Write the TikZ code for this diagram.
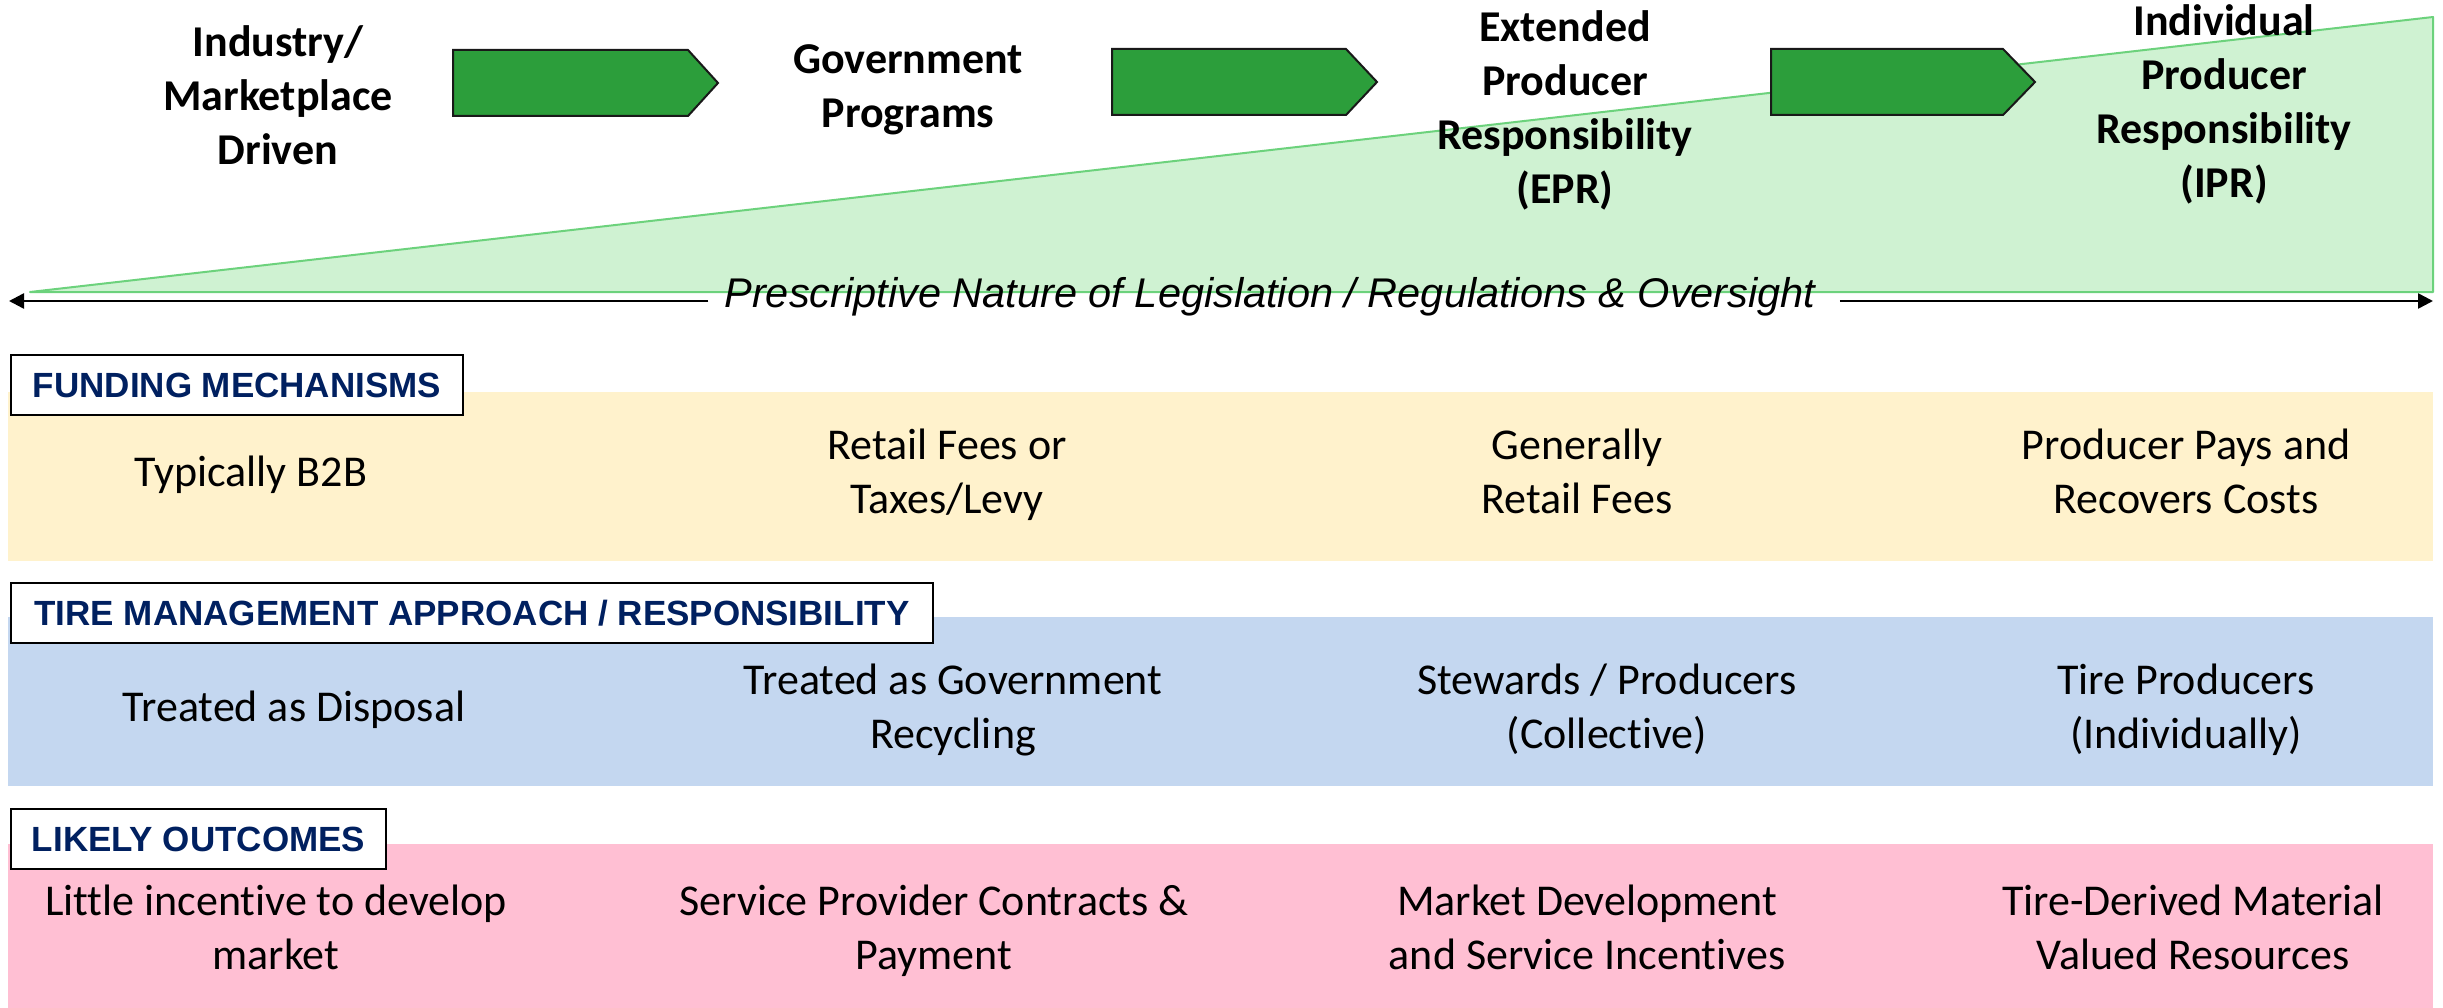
\documentclass[tikz,border=0pt]{standalone}
\usepackage{fontspec}
\setmainfont{Carlito}[Ligatures=NoCommon]
\newfontfamily\arialfont{Liberation Sans}
\usetikzlibrary{arrows.meta}
\definecolor{chevgreen}{RGB}{44,158,59}
\definecolor{trifill}{RGB}{207,242,210}
\definecolor{triline}{RGB}{108,210,124}
\definecolor{bandyellow}{RGB}{255,242,204}
\definecolor{bandblue}{RGB}{196,215,240}
\definecolor{bandpink}{RGB}{255,191,211}
\definecolor{navy}{RGB}{0,32,96}
\begin{document}
\begin{tikzpicture}[x=1pt,y=-1pt,
  titletext/.style={font=\bfseries\fontsize{44}{54}\selectfont, align=center, inner sep=0pt},
  celltext/.style={font=\fontsize{44}{54}\selectfont, align=center, inner sep=0pt},
  hdrbox/.style={draw=black, line width=2pt, fill=white, anchor=north west, inner sep=0pt,
    minimum height=60pt, text=navy, font=\arialfont\bfseries\fontsize{35}{42}\selectfont},
  chevron/.style={fill=chevgreen, draw=black!90, line width=2pt, line join=miter},
  scaleline/.style={line width=2.5pt, -{Triangle[length=15pt,width=15pt]}},
  scaletext/.style={font=\arialfont\itshape\fontsize{41.5}{49}\selectfont, inner sep=0pt, anchor=base}
]
\useasboundingbox (0,0) rectangle (2443,1008);
\fill[white] (0,0) rectangle (2443,1008);

% rising wedge
\filldraw[fill=trifill, draw=triline, line width=2pt, line join=round]
  (30,292) -- (2433,17) -- (2433,292) -- cycle;

% progression chevrons
\draw[chevron] (453,50) -- (688,50) -- (718,83) -- (688,116) -- (453,116) -- cycle;
\draw[chevron] (1112,49) -- (1346,49) -- (1377,82) -- (1346,115) -- (1112,115) -- cycle;
\draw[chevron] (1771,49) -- (2003,49) -- (2035,82) -- (2003,115) -- (1771,115) -- cycle;

% stage titles
\node[titletext] (t1) at (278,100) {\strut Industry/\\\strut Marketplace\\\strut Driven};
\node[titletext] (t2) at (908,90) {\strut Government\\\strut Programs};
\node[titletext] (t3) at (1565,112) {\strut Extended\\\strut Producer\\\strut Responsibility\\\strut (EPR)};
\node[titletext] (t4) at (2224,106) {\strut Individual\\\strut Producer\\\strut Responsibility\\\strut (IPR)};

% scale line
\node[scaletext] (scale) at (1270,307) {Prescriptive Nature of Legislation / Regulations \& Oversight};
\coordinate (lend) at (9,301);
\coordinate (rend) at (2433,301);
\draw[scaleline] ([xshift=-16pt]scale.west |- lend) -- (lend);
\draw[scaleline] ([xshift=24pt]scale.east |- rend) -- (rend);

% bands
\fill[bandyellow] (8,392) rectangle (2433,561);
\fill[bandblue] (8,617) rectangle (2433,786);
\fill[bandpink] (8,844) rectangle (2433,1008);

% headers
\node[hdrbox, minimum width=452pt] (h1) at (10,354) {FUNDING MECHANISMS};
\node[hdrbox, minimum width=922pt] (h2) at (10,582) {TIRE MANAGEMENT APPROACH / RESPONSIBILITY};
\node[hdrbox, minimum width=375pt] (h3) at (10,808) {LIKELY OUTCOMES};

% row 1
\node[celltext] (f1) at (251,476) {\strut Typically B2B};
\node[celltext] (f2) at (947,476) {\strut Retail Fees or\\\strut Taxes/Levy};
\node[celltext] (f3) at (1577,476) {\strut Generally\\\strut Retail Fees};
\node[celltext] (f4) at (2186,476) {\strut Producer Pays and\\\strut Recovers Costs};

% row 2
\node[celltext] (m1) at (294,711) {\strut Treated as Disposal};
\node[celltext] (m2) at (953,711) {\strut Treated as Government\\\strut Recycling};
\node[celltext] (m3) at (1607,711) {\strut Stewards / Producers\\\strut (Collective)};
\node[celltext] (m4) at (2186,711) {\strut Tire Producers\\\strut (Individually)};

% row 3
\node[celltext] (o1) at (276,932) {\strut Little incentive to develop\\\strut market};
\node[celltext] (o2) at (934,932) {\strut Service Provider Contracts \&\\\strut Payment};
\node[celltext] (o3) at (1587,932) {\strut Market Development\\\strut and Service Incentives};
\node[celltext] (o4) at (2193,932) {\strut Tire-Derived Material\\\strut Valued Resources};
\end{tikzpicture}
\end{document}
